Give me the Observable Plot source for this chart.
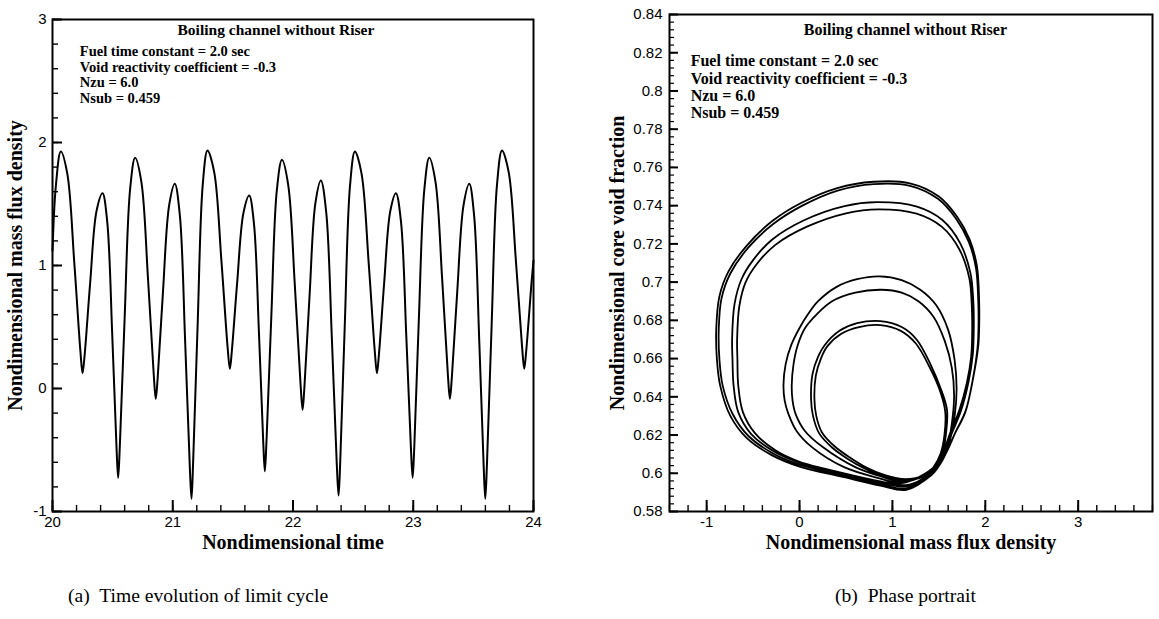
<!DOCTYPE html>
<html>
<head>
<meta charset="utf-8">
<script src="https://cdn.jsdelivr.net/npm/d3@7"></script>
<script src="https://cdn.jsdelivr.net/npm/@observablehq/plot@0.6"></script>
<style>
html, body { margin: 0; padding: 0; background: #fff; }
#wrap { position: relative; width: 1159px; height: 619px; overflow: hidden; background: #fff; }
.panel { position: absolute; top: 0; }
#left { left: 0; }
#right { left: 590px; }
.cap { position: absolute; top: 585px; font-family: "Liberation Serif", "Times New Roman", serif; font-size: 19.6px; white-space: pre; color: #000; }
svg g[aria-label="x-axis label"] text, svg g[aria-label="y-axis label"] text {
  font-family: "Liberation Serif", "Times New Roman", serif; font-weight: bold; font-size: 20px;
}
svg g[aria-label="notesA"] text { letter-spacing: 0.45px; }
</style>
</head>
<body>
<div id="wrap">
  <div id="left" class="panel"></div>
  <div id="right" class="panel"></div>
  <div class="cap" style="left:68px">(a)  Time evolution of limit cycle</div>
  <div class="cap" style="left:835px">(b)  Phase portrait</div>
</div>
<script>
// ---------- (a) time series: nondimensional mass flux density vs time ----------
const timeT = [20.000, 20.028, 20.069, 20.123, 20.181, 20.232, 20.250, 20.267, 20.313, 20.366,
  20.416, 20.455, 20.497, 20.533, 20.546, 20.560, 20.600, 20.645, 20.687, 20.739,
  20.794, 20.842, 20.859, 20.875, 20.919, 20.970, 21.017, 21.059, 21.103, 21.142,
  21.156, 21.169, 21.207, 21.249, 21.289, 21.345, 21.404, 21.456, 21.475, 21.491,
  21.536, 21.588, 21.636, 21.675, 21.717, 21.753, 21.766, 21.780, 21.820, 21.865,
  21.908, 21.960, 22.015, 22.063, 22.080, 22.095, 22.138, 22.186, 22.232, 22.276,
  22.323, 22.364, 22.379, 22.393, 22.431, 22.474, 22.515, 22.570, 22.629, 22.680,
  22.698, 22.714, 22.758, 22.809, 22.856, 22.898, 22.942, 22.981, 22.995, 23.009,
  23.047, 23.092, 23.133, 23.185, 23.240, 23.288, 23.305, 23.321, 23.366, 23.418,
  23.466, 23.506, 23.549, 23.586, 23.599, 23.613, 23.652, 23.696, 23.738, 23.794,
  23.853, 23.905, 23.923, 23.939, 23.984, 24.000];
const fluxG = [1.12, 1.647, 1.927, 1.747, 1.026, 0.304, 0.124, 0.270, 0.856, 1.442,
  1.588, 1.357, 0.431, -0.495, -0.726, -0.466, 0.575, 1.616, 1.876, 1.680,
  0.896, 0.112, -0.084, 0.091, 0.790, 1.489, 1.664, 1.408, 0.384, -0.641,
  -0.897, -0.614, 0.519, 1.652, 1.935, 1.757, 1.048, 0.338, 0.160, 0.301,
  0.865, 1.428, 1.569, 1.345, 0.449, -0.448, -0.672, -0.419, 0.594, 1.606,
  1.859, 1.656, 0.843, 0.030, -0.173, 0.013, 0.759, 1.505, 1.691, 1.435,
  0.411, -0.614, -0.870, -0.590, 0.529, 1.647, 1.927, 1.747, 1.026, 0.304,
  0.124, 0.270, 0.856, 1.442, 1.588, 1.357, 0.431, -0.495, -0.726, -0.466,
  0.575, 1.616, 1.876, 1.680, 0.896, 0.112, -0.084, 0.091, 0.790, 1.489,
  1.664, 1.408, 0.384, -0.641, -0.897, -0.614, 0.519, 1.652, 1.935, 1.757,
  1.048, 0.338, 0.160, 0.301, 0.865, 1.04];

// ---------- (b) phase portrait: [mass flux density, core void fraction] along one period ----------
const upA2 = [[-0.870,0.675],[-0.840,0.6915],[-0.745,0.7045],[-0.552,0.7180],[-0.28,0.7305],[0.03,0.7400],[0.41,0.7479],[0.80,0.7513],[1.19,0.7504],[1.49,0.7436],[1.685,0.7332],[1.822,0.7210],[1.900,0.7072],[1.924,0.6900],[1.927,0.678]];
const downP1 = [[1.917,0.666],[1.865,0.649],[1.785,0.632],[1.67,0.6205],[1.592,0.612],[1.49,0.6035],[1.34,0.5985],[1.14,0.5962],[0.90,0.5985],[0.70,0.6025],[0.52,0.6075],[0.35,0.6135],[0.21,0.621],[0.145,0.630]];
const upS1 = [[0.124,0.639],[0.14,0.652],[0.20,0.661],[0.27,0.667],[0.43,0.6745],[0.62,0.6785],[0.87,0.6796],[1.10,0.6765],[1.26,0.670],[1.41,0.657],[1.53,0.643],[1.588,0.633]];
const downP2 = [[1.575,0.620],[1.535,0.610],[1.455,0.6025],[1.33,0.5965],[1.15,0.5930],[0.87,0.5950],[0.48,0.5995],[0.0,0.6055],[-0.28,0.6115],[-0.52,0.6205],[-0.66,0.632],[-0.71,0.646],[-0.722,0.660]];
const upB1 = [[-0.726,0.670],[-0.70,0.6885],[-0.625,0.7015],[-0.50,0.7115],[-0.297,0.7222],[0.054,0.7325],[0.484,0.7398],[0.835,0.7418],[1.264,0.7395],[1.538,0.7325],[1.73,0.7203],[1.84,0.7047],[1.870,0.6908],[1.876,0.677]];
const downP3 = [[1.865,0.662],[1.82,0.648],[1.74,0.633],[1.64,0.621],[1.575,0.613],[1.49,0.6045],[1.35,0.599],[1.10,0.5955],[0.90,0.598],[0.60,0.6032],[0.25,0.6137],[0.06,0.622],[-0.043,0.6311],[-0.075,0.638]];
const upM2 = [[-0.084,0.646],[-0.065,0.657],[-0.02,0.667],[0.06,0.676],[0.19,0.6834],[0.35,0.690],[0.60,0.6945],[0.88,0.696],[1.10,0.6945],[1.28,0.690],[1.44,0.682],[1.565,0.669],[1.64,0.655],[1.664,0.641]];
const downP4 = [[1.645,0.628],[1.60,0.616],[1.52,0.606],[1.40,0.5985],[1.15,0.5913],[0.87,0.5935],[0.48,0.598],[0.0,0.6035],[-0.30,0.6095],[-0.57,0.6185],[-0.745,0.630],[-0.855,0.646],[-0.89,0.660]];
const upA1 = [[-0.897,0.675],[-0.863,0.6925],[-0.766,0.7055],[-0.570,0.7190],[-0.297,0.7318],[0.016,0.7414],[0.406,0.7492],[0.797,0.7525],[1.188,0.7517],[1.50,0.7448],[1.695,0.7343],[1.832,0.7222],[1.910,0.7083],[1.933,0.6910],[1.935,0.679]];
const downP5 = [[1.925,0.667],[1.87,0.650],[1.79,0.633],[1.674,0.6210],[1.596,0.6125],[1.50,0.604],[1.35,0.599],[1.14,0.5969],[0.92,0.599],[0.72,0.603],[0.55,0.608],[0.38,0.614],[0.24,0.6215],[0.18,0.630]];
const upS2 = [[0.160,0.639],[0.175,0.651],[0.23,0.660],[0.30,0.6665],[0.45,0.673],[0.64,0.6765],[0.87,0.6775],[1.09,0.6745],[1.25,0.668],[1.40,0.6555],[1.52,0.642],[1.569,0.632]];
const downP6 = [[1.56,0.620],[1.52,0.6105],[1.44,0.603],[1.32,0.597],[1.15,0.5938],[0.87,0.5958],[0.48,0.600],[0.0,0.606],[-0.26,0.612],[-0.48,0.621],[-0.61,0.632],[-0.66,0.646],[-0.669,0.660]];
const upB2 = [[-0.672,0.670],[-0.648,0.6875],[-0.58,0.700],[-0.46,0.7095],[-0.26,0.7195],[0.08,0.7290],[0.50,0.7360],[0.85,0.7381],[1.26,0.7358],[1.53,0.7290],[1.72,0.7172],[1.828,0.7020],[1.853,0.6890],[1.859,0.676]];
const downP7 = [[1.848,0.661],[1.80,0.647],[1.72,0.633],[1.625,0.6215],[1.565,0.6135],[1.48,0.605],[1.34,0.5995],[1.10,0.5948],[0.85,0.5975],[0.48,0.6032],[0.133,0.6137],[-0.03,0.622],[-0.12,0.6311],[-0.16,0.638]];
const upM1 = [[-0.173,0.646],[-0.15,0.657],[-0.09,0.667],[0.0,0.676],[0.094,0.6834],[0.20,0.690],[0.40,0.6975],[0.62,0.7015],[0.86,0.703],[1.10,0.701],[1.30,0.696],[1.47,0.688],[1.60,0.675],[1.67,0.659],[1.691,0.644]];
const downP8 = [[1.67,0.630],[1.62,0.6175],[1.54,0.607],[1.42,0.599],[1.15,0.5920],[0.87,0.5942],[0.48,0.5988],[0.0,0.6045],[-0.29,0.6105],[-0.55,0.6195],[-0.72,0.631],[-0.828,0.646],[-0.863,0.660]];
const trajectoryOrder = [upA2, downP1, upS1, downP2, upB1, downP3, upM2, downP4, upA1, downP5, upS2, downP6, upB2, downP7, upM1, downP8];

// ---------- ticks and texts ----------
const xTicksA = [20, 21, 22, 23, 24];
const yTicksA = [-1, 0, 1, 2, 3];
const xTicksB = [-1, 0, 1, 2, 3];
const yTicksB = [0.58, 0.6, 0.62, 0.64, 0.66, 0.68, 0.7, 0.72, 0.74, 0.76, 0.78, 0.8, 0.82, 0.84];
const panelTitle = "Boiling channel without Riser";
const noteLines = ["Fuel time constant = 2.0 sec", "Void reactivity coefficient = -0.3", "Nzu = 6.0", "Nsub = 0.459"];
// annotation anchors in each panel's data units (x of left edge / centre, y of last baseline)
const noteXA = 20.227, noteYA = 2.320, titleXA = 21.858, titleYA = 2.870;
const noteXB = -1.172, noteYB = 0.7856, titleXB = 1.14, titleYB = 0.8294;

const series = timeT.map((t, i) => ({t, g: fluxG[i]}));
const phase = trajectoryOrder.flat().map(([g, a]) => ({g, a}));
const noteText = noteLines.join("\n");

const baseStyle = {fontFamily: '"Liberation Sans", Arial, sans-serif', fontSize: "15px", background: "transparent", color: "#000", overflow: "visible"};
const serifBold = {fontFamily: '"Liberation Serif", "Times New Roman", serif', fontWeight: "bold"};

// inward tick lengths: px converted to data units of each frame
const A = {w: 481, h: 492, x0: 20, x1: 24, y0: -1, y1: 3};
const B = {w: 483, h: 497, x0: -1.4, x1: 3.8, y0: 0.58, y1: 0.84};
const lenY = (P, px) => (P.y1 - P.y0) / P.h * px;
const lenX = (P, px) => (P.x1 - P.x0) / P.w * px;

const plotA = Plot.plot({
  width: 560, height: 560,
  marginLeft: 52, marginRight: 27, marginTop: 19, marginBottom: 49,
  style: baseStyle,
  x: {domain: [A.x0, A.x1]},
  y: {domain: [A.y0, A.y1]},
  marks: [
    Plot.ruleX(d3.range(20, 24.001, 0.2), {x: d => d, y1: A.y0, y2: A.y0 + lenY(A, 6), stroke: "black", strokeWidth: 1.4}),
    Plot.ruleX(xTicksA, {x: d => d, y1: A.y0, y2: A.y0 + lenY(A, 11), stroke: "black", strokeWidth: 2}),
    Plot.ruleY(d3.range(-1, 3.001, 0.2), {y: d => d, x1: A.x0, x2: A.x0 + lenX(A, 6), stroke: "black", strokeWidth: 1.4}),
    Plot.ruleY(yTicksA, {y: d => d, x1: A.x0, x2: A.x0 + lenX(A, 10), stroke: "black", strokeWidth: 2}),
    Plot.axisX({ticks: xTicksA, tickSize: 0, tickPadding: 5, tickFormat: d => String(d), label: "Nondimensional time", labelAnchor: "center", labelOffset: 37, labelArrow: "none"}),
    Plot.axisY({ticks: yTicksA, tickSize: 0, tickPadding: 6, tickFormat: d => String(d), label: "Nondimensional mass flux density", labelAnchor: "center", labelOffset: 45, labelArrow: "none"}),
    Plot.line(series, {x: "t", y: "g", curve: "catmull-rom", stroke: "black", strokeWidth: 2}),
    Plot.text([panelTitle], {x: () => titleXA, y: () => titleYA, text: d => d, textAnchor: "middle", lineAnchor: "bottom", ...serifBold, fontSize: 15.5}),
    Plot.text([noteText], {x: () => noteXA, y: () => noteYA, text: d => d, textAnchor: "start", lineAnchor: "bottom", lineHeight: 1.09, ...serifBold, fontSize: 14.5, ariaLabel: "notesA"}),
    Plot.frame({stroke: "black", strokeWidth: 2})
  ]
});
document.getElementById("left").appendChild(plotA);

const plotB = Plot.plot({
  width: 569, height: 560,
  marginLeft: 79, marginRight: 7, marginTop: 14, marginBottom: 49,
  style: baseStyle,
  x: {domain: [B.x0, B.x1]},
  y: {domain: [B.y0, B.y1]},
  marks: [
    Plot.ruleX(d3.range(-1.4, 3.801, 0.2), {x: d => d, y1: B.y0, y2: B.y0 + lenY(B, 6), stroke: "black", strokeWidth: 1.4}),
    Plot.ruleX(xTicksB, {x: d => d, y1: B.y0, y2: B.y0 + lenY(B, 11), stroke: "black", strokeWidth: 2}),
    Plot.ruleY(d3.range(0.58, 0.8401, 0.004), {y: d => d, x1: B.x0, x2: B.x0 + lenX(B, 5), stroke: "black", strokeWidth: 1.2}),
    Plot.ruleY(yTicksB, {y: d => d, x1: B.x0, x2: B.x0 + lenX(B, 9), stroke: "black", strokeWidth: 2}),
    Plot.axisX({ticks: xTicksB, tickSize: 0, tickPadding: 5, tickFormat: d => String(d), label: "Nondimensional mass flux density", labelAnchor: "center", labelOffset: 37, labelArrow: "none"}),
    Plot.axisY({ticks: yTicksB, tickSize: 0, tickPadding: 7, tickFormat: d => String(+d.toFixed(2)), label: "Nondimensional core void fraction", labelAnchor: "center", labelOffset: 60, labelArrow: "none"}),
    Plot.line(phase, {x: "g", y: "a", curve: "catmull-rom-closed", stroke: "black", strokeWidth: 1.8}),
    Plot.text([panelTitle], {x: () => titleXB, y: () => titleYB, text: d => d, textAnchor: "middle", lineAnchor: "bottom", ...serifBold, fontSize: 16}),
    Plot.text([noteText], {x: () => noteXB, y: () => noteYB, text: d => d, textAnchor: "start", lineAnchor: "bottom", lineHeight: 1.0875, ...serifBold, fontSize: 16}),
    Plot.frame({stroke: "black", strokeWidth: 2})
  ]
});
document.getElementById("right").appendChild(plotB);
</script>
</body>
</html>
